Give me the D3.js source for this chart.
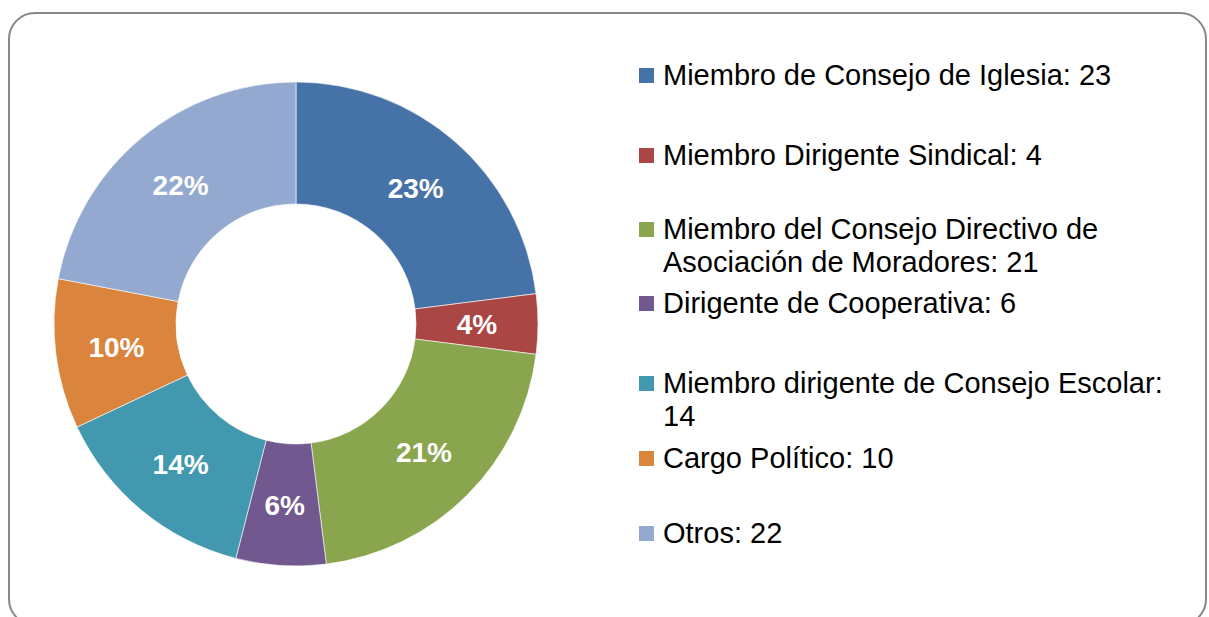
<!DOCTYPE html>
<html>
<head>
<meta charset="utf-8">
<script src="https://cdn.jsdelivr.net/npm/d3@7"></script>
<style>
  body { margin: 0; background: #fff; }
  svg { display: block; font-family: "Liberation Sans", Arial, sans-serif; }
</style>
</head>
<body>
<div id="chart"></div>
<script>
// data
const categories = [
    "Miembro de Consejo de Iglesia",
    "Miembro Dirigente Sindical",
    "Miembro del Consejo Directivo de Asociación de Moradores",
    "Dirigente de Cooperativa",
    "Miembro dirigente de Consejo Escolar",
    "Cargo Político",
    "Otros"
];
const values = [23, 4, 21, 6, 14, 10, 22];
const colors = ["#4572A7", "#AA4643", "#89A54E", "#71588F", "#4198AF", "#DB843D", "#93A9CF"];

// legend text lines (as wrapped in the original)
const legendLines = [
    ["Miembro de Consejo de Iglesia: 23"],
    ["Miembro Dirigente Sindical: 4"],
    ["Miembro del Consejo Directivo de", "Asociación de Moradores: 21"],
    ["Dirigente de Cooperativa: 6"],
    ["Miembro dirigente de Consejo Escolar:", "14"],
    ["Cargo Político: 10"],
    ["Otros: 22"]
];

// layout
const W = 1209, H = 617;
const cx = 296, cy = 324, outerR = 242, innerR = 120;
const legendX = 639, legendTextX = 663, lineH = 33;
const legendY = [75, 155, 229, 303, 383, 458, 533];

const svg = d3.select("#chart").append("svg")
    .attr("width", W)
    .attr("height", H);

svg.append("rect")
    .attr("x", 9).attr("y", 13)
    .attr("width", 1197).attr("height", 612)
    .attr("rx", 26).attr("ry", 26)
    .attr("fill", "#fff")
    .attr("stroke", "#888")
    .attr("stroke-width", 2);

const data = categories.map((c, i) => ({name: c, value: values[i], color: colors[i]}));
const total = d3.sum(values);

const pie = d3.pie().value(d => d.value).sort(null);
const arc = d3.arc().innerRadius(innerR).outerRadius(outerR);

const g = svg.append("g").attr("transform", `translate(${cx},${cy})`);

const slices = g.selectAll("g.slice")
    .data(pie(data))
    .enter()
    .append("g")
    .attr("class", "slice");

slices.append("path")
    .attr("d", arc)
    .attr("fill", d => d.data.color)
    .attr("stroke", "#fff")
    .attr("stroke-width", 0.6);

slices.append("text")
    .attr("transform", d => `translate(${arc.centroid(d)})`)
    .attr("text-anchor", "middle")
    .attr("dy", "0.36em")
    .attr("fill", "#fff")
    .attr("font-weight", "bold")
    .attr("font-size", 28)
    .text(d => Math.round(d.data.value / total * 100) + "%");

// legend
const legend = svg.append("g");
const items = legend.selectAll("g")
    .data(data)
    .enter()
    .append("g")
    .attr("transform", (d, i) => `translate(0,${legendY[i]})`);

items.append("rect")
    .attr("x", legendX)
    .attr("y", -7)
    .attr("width", 15)
    .attr("height", 15)
    .attr("fill", d => d.color);

items.each(function (d, i) {
    const t = d3.select(this).append("text")
        .attr("x", legendTextX)
        .attr("font-size", 29)
        .attr("fill", "#000");
    legendLines[i].forEach((line, j) => {
        t.append("tspan")
            .attr("x", legendTextX)
            .attr("y", j * lineH)
            .attr("dy", "0.36em")
            .text(line);
    });
});
</script>
</body>
</html>
